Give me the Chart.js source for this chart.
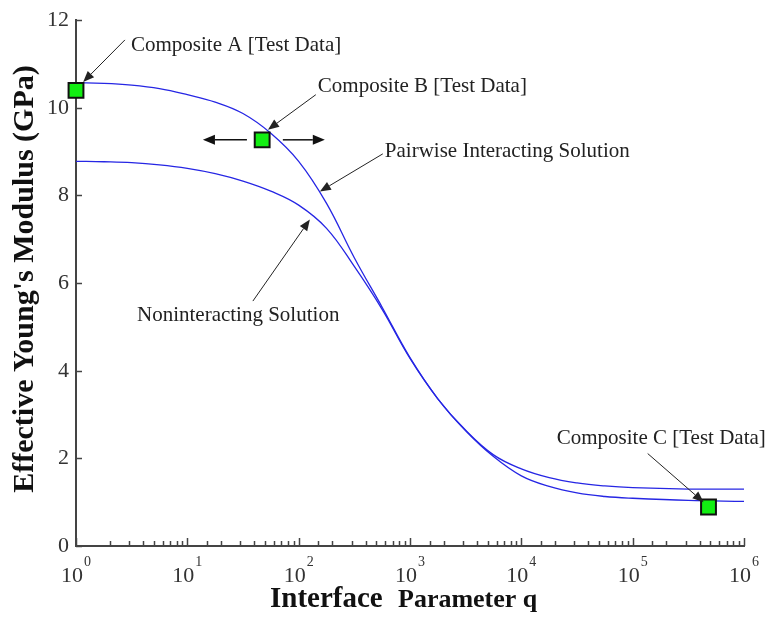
<!DOCTYPE html>
<html>
<head>
<meta charset="utf-8">
<script src="https://cdn.jsdelivr.net/npm/chart.js@4"></script>
<style>
  html, body { margin: 0; padding: 0; background: #fff; }
  #wrap { width: 770px; height: 617px; }
</style>
</head>
<body>
<div id="wrap"><canvas id="c" width="770" height="617"></canvas></div>
<script>
// Interface parameter q at which the model curves are sampled
const qValues = [1, 1.78, 3.16, 5.62, 10, 17.8, 31.6, 56.2, 100, 178, 316, 562,
                 1000, 1778, 3162, 5623, 10000, 17783, 31623, 56234, 100000, 316228, 1000000];
// Effective Young's modulus (GPa), pairwise interacting solution
const pairwiseModulus = [10.57, 10.56, 10.52, 10.44, 10.30, 10.13, 9.87, 9.42, 8.78, 7.82, 6.58, 5.45,
                         4.30, 3.36, 2.63, 2.04, 1.60, 1.36, 1.21, 1.13, 1.09, 1.04, 1.02];
// Effective Young's modulus (GPa), noninteracting solution
const noninteractingModulus = [8.78, 8.77, 8.75, 8.70, 8.62, 8.50, 8.33, 8.10, 7.78, 7.25, 6.38, 5.40,
                               4.28, 3.36, 2.64, 2.08, 1.76, 1.56, 1.44, 1.37, 1.33, 1.30, 1.30];
// Measured composites
const testNames = ['Composite A', 'Composite B', 'Composite C'];
const testQ = [1, 47, 480000];
const testModulus = [10.4, 9.27, 0.89];
// Axis ticks
const yTickValues = [0, 2, 4, 6, 8, 10, 12];
const xDecades = [0, 1, 2, 3, 4, 5, 6];

// Callout labels and arrows, in data coordinates (q, GPa)
const callouts = [
  { text: 'Composite A [Test Data]',       at: [3.12, 11.43],  from: [2.75, 11.55],   to: [1.16, 10.59] },
  { text: 'Composite B [Test Data]',       at: [148.7, 10.48], from: [142.6, 10.30],  to: [53, 9.5] },
  { text: 'Pairwise Interacting Solution', at: [594, 9.0],     from: [570, 8.95],     to: [155, 8.09] },
  { text: 'Noninteracting Solution',       at: [3.53, 5.25],   from: [38.8, 5.59],    to: [126, 7.45] },
  { text: 'Composite C [Test Data]',       at: [20800, 2.45],  from: [136400, 2.11],  to: [433600, 1.0] }
];
// Arrows either side of Composite B showing the uncertainty in q
const shiftArrows = [
  { from: [34.3, 9.27], to: [13.8, 9.27] },
  { from: [72.1, 9.27], to: [171.8, 9.27] }
];

const SERIF = '"Liberation Serif", "Times New Roman", "DejaVu Serif", serif';
const AXIS_COLOR = '#444';
const CURVE_COLOR = 'rgb(38, 38, 228)';

const toXY = (xs, ys) => xs.map((x, i) => ({ x: x, y: ys[i] }));

function arrow(ctx, x1, y1, x2, y2, len, half, width) {
  const a = Math.atan2(y2 - y1, x2 - x1);
  const bx = x2 - len * Math.cos(a), by = y2 - len * Math.sin(a);
  ctx.lineWidth = width;
  ctx.beginPath();
  ctx.moveTo(x1, y1);
  ctx.lineTo(bx, by);
  ctx.stroke();
  ctx.beginPath();
  ctx.moveTo(x2, y2);
  ctx.lineTo(bx + half * Math.sin(a), by - half * Math.cos(a));
  ctx.lineTo(bx - half * Math.sin(a), by + half * Math.cos(a));
  ctx.closePath();
  ctx.fill();
}

const decorations = {
  id: 'decorations',
  afterDraw(chart) {
    const ctx = chart.ctx;
    const xs = chart.scales.x, ys = chart.scales.y;
    const area = chart.chartArea;
    ctx.save();

    // inward tick marks
    ctx.strokeStyle = AXIS_COLOR;
    ctx.lineWidth = 1.5;
    ys.ticks.forEach(t => {
      const py = Math.round(ys.getPixelForValue(t.value)) + 0.5;
      ctx.beginPath();
      ctx.moveTo(area.left, py);
      ctx.lineTo(area.left + 6, py);
      ctx.stroke();
    });
    xs.ticks.forEach(t => {
      const lg = Math.log10(t.value);
      const major = Math.abs(lg - Math.round(lg)) < 1e-9;
      const px = Math.round(xs.getPixelForValue(t.value)) + 0.5;
      ctx.beginPath();
      ctx.moveTo(px, area.bottom);
      ctx.lineTo(px, area.bottom - (major ? 8 : 5));
      ctx.stroke();
    });

    // x tick labels 10^n
    ctx.fillStyle = '#333';
    ctx.textBaseline = 'alphabetic';
    ctx.textAlign = 'left';
    xDecades.forEach(d => {
      const px = xs.getPixelForValue(Math.pow(10, d));
      ctx.font = '22px ' + SERIF;
      const wb = ctx.measureText('10').width;
      ctx.font = '14px ' + SERIF;
      const we = ctx.measureText(String(d)).width;
      const left = px - (wb + we + 1) / 2;
      ctx.font = '22px ' + SERIF;
      ctx.fillText('10', left, 582);
      ctx.font = '14px ' + SERIF;
      ctx.fillText(String(d), left + wb + 1, 566);
    });

    // axis titles
    ctx.fillStyle = '#111';
    ctx.save();
    ctx.translate(25, 279);
    ctx.rotate(-Math.PI / 2);
    ctx.textAlign = 'center';
    ctx.textBaseline = 'middle';
    ctx.font = 'bold 30px ' + SERIF;
    ctx.fillText("Effective Young's Modulus (GPa)", 0, 0);
    ctx.restore();

    ctx.textAlign = 'left';
    ctx.textBaseline = 'alphabetic';
    ctx.font = 'bold 29px ' + SERIF;
    ctx.fillText('Interface', 270, 607);
    ctx.font = 'bold 26px ' + SERIF;
    ctx.fillText('Parameter q', 398, 607);

    // callouts
    ctx.fillStyle = '#222';
    ctx.strokeStyle = '#222';
    ctx.font = '21px ' + SERIF;
    ctx.textBaseline = 'middle';
    callouts.forEach(c => {
      ctx.fillText(c.text, xs.getPixelForValue(c.at[0]), ys.getPixelForValue(c.at[1]));
      arrow(ctx,
        xs.getPixelForValue(c.from[0]), ys.getPixelForValue(c.from[1]),
        xs.getPixelForValue(c.to[0]), ys.getPixelForValue(c.to[1]), 11, 4.5, 1);
    });
    ctx.fillStyle = '#111';
    ctx.strokeStyle = '#111';
    shiftArrows.forEach(s => {
      arrow(ctx,
        xs.getPixelForValue(s.from[0]), ys.getPixelForValue(s.from[1]),
        xs.getPixelForValue(s.to[0]), ys.getPixelForValue(s.to[1]), 12, 5, 1.5);
    });

    ctx.restore();
  }
};

new Chart(document.getElementById('c'), {
  type: 'line',
  data: {
    datasets: [
      {
        label: 'Test Data',
        data: toXY(testQ, testModulus),
        showLine: false,
        pointStyle: 'rect',
        pointRadius: 10.5,
        pointHoverRadius: 10.5,
        backgroundColor: '#12ee12',
        borderColor: '#111',
        borderWidth: 2,
        clip: false
      },
      {
        label: 'Pairwise Interacting Solution',
        data: toXY(qValues, pairwiseModulus),
        borderColor: CURVE_COLOR,
        borderWidth: 1.3,
        pointRadius: 0,
        tension: 0.4,
        fill: false
      },
      {
        label: 'Noninteracting Solution',
        data: toXY(qValues, noninteractingModulus),
        borderColor: CURVE_COLOR,
        borderWidth: 1.3,
        pointRadius: 0,
        tension: 0.4,
        fill: false
      }
    ]
  },
  options: {
    responsive: false,
    animation: false,
    devicePixelRatio: 1,
    layout: { padding: { left: 0, top: 18, right: 26, bottom: 0 } },
    plugins: { legend: { display: false }, tooltip: { enabled: false } },
    scales: {
      x: {
        type: 'logarithmic',
        min: 1,
        max: 1000000,
        grid: { display: false, drawTicks: false },
        border: { display: true, color: AXIS_COLOR, width: 2 },
        ticks: { display: false },
        afterFit(scale) { scale.height = 71; }
      },
      y: {
        type: 'linear',
        min: 0,
        max: 12,
        afterBuildTicks(scale) { scale.ticks = yTickValues.map(v => ({ value: v })); },
        grid: { display: false, drawTicks: false },
        border: { display: true, color: AXIS_COLOR, width: 2 },
        ticks: {
          padding: 7,
          color: '#333',
          font: { family: SERIF, size: 22 }
        },
        afterFit(scale) { scale.width = 76; }
      }
    }
  },
  plugins: [decorations]
});
</script>
</body>
</html>
